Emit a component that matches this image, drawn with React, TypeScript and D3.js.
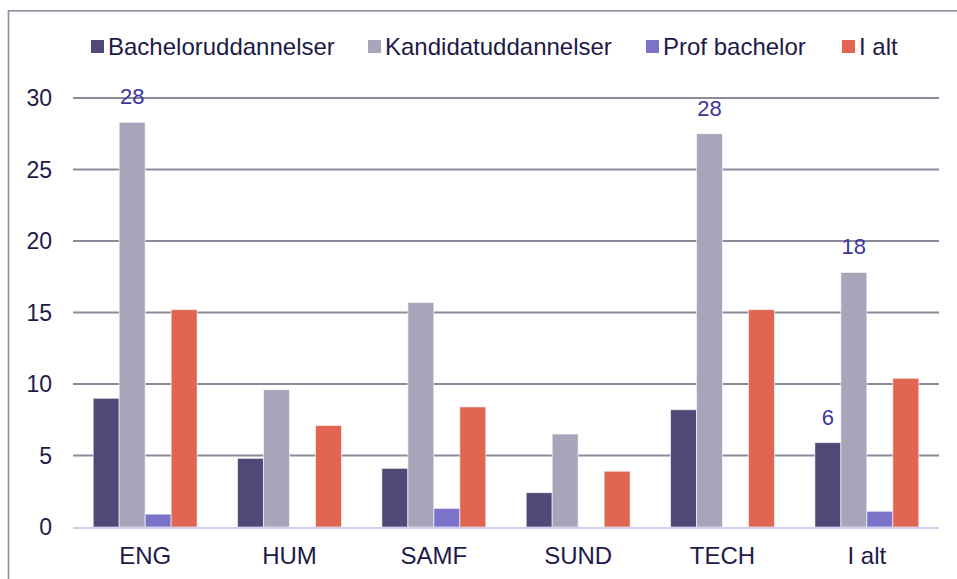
import React, { useEffect, useRef } from 'react'
import * as d3 from 'd3'

// faculties + total
const categories = ['ENG', 'HUM', 'SAMF', 'SUND', 'TECH', 'I alt']
const seriesNames = ['Bacheloruddannelser', 'Kandidatuddannelser', 'Prof bachelor', 'I alt']
const bachelor = [9.0, 4.8, 4.1, 2.4, 8.2, 5.9]
const kandidat = [28.3, 9.6, 15.7, 6.5, 27.5, 17.8]
const profBachelor = [0.9, 0, 1.3, 0, 0, 1.1]
const total = [15.2, 7.1, 8.4, 3.9, 15.2, 10.4]
const yTicks = [0, 5, 10, 15, 20, 25, 30]
// value labels shown in the chart: [category, series index, text]
const valueLabels: [string, number, string][] = [
  ['ENG', 1, '28'],
  ['TECH', 1, '28'],
  ['I alt', 1, '18'],
  ['I alt', 0, '6'],
]

const colors = ['#4f4977', '#a8a4ba', '#7b73c9', '#e06651']
const textColor = '#1e1a48'
const labelColor = '#3d369c'
const font = 'Arial, "Liberation Sans", sans-serif'

export default function App() {
  const svgRef = useRef<SVGSVGElement>(null)

  useEffect(() => {
    document.body.style.margin = '0'
    const W = 957, H = 579
    const margin = { top: 98, right: 18, bottom: 52, left: 73 }
    const svg = d3.select(svgRef.current)
    svg.selectAll('*').remove()
    svg.attr('width', W).attr('height', H)

    svg.append('rect').attr('width', W).attr('height', H).attr('fill', '#fff')

    // frame (right/bottom edges run off the picture)
    svg.append('rect')
      .attr('x', 8.5).attr('y', 10.8)
      .attr('width', W + 20).attr('height', H + 20)
      .attr('fill', 'none').attr('stroke', '#8f8ea0').attr('stroke-width', 1.6)

    const x0 = d3.scaleBand<string>()
      .domain(categories)
      .range([margin.left, W - margin.right])
      .paddingInner(0.28)
      .paddingOuter(0.14)

    const x1 = d3.scaleBand<number>()
      .domain([0, 1, 2, 3])
      .range([0, x0.bandwidth()])

    const y = d3.scaleLinear()
      .domain([0, 30])
      .range([H - margin.bottom, margin.top])

    // grid
    svg.append('g').selectAll('line')
      .data(yTicks.filter(t => t > 0))
      .enter().append('line')
      .attr('x1', margin.left).attr('x2', W - margin.right)
      .attr('y1', d => y(d)).attr('y2', d => y(d))
      .attr('stroke', '#8c8a9a').attr('stroke-width', 2)

    // y tick labels
    svg.append('g').selectAll('text')
      .data(yTicks)
      .enter().append('text')
      .attr('x', 52).attr('y', d => y(d))
      .attr('dy', '0.35em')
      .attr('text-anchor', 'end')
      .style('font', `23px ${font}`)
      .attr('fill', textColor)
      .text(d => d)

    const series = [bachelor, kandidat, profBachelor, total]
    const data = categories.map((c, i) => ({
      cat: c,
      values: series.map((s, k) => ({ k, v: s[i] })),
    }))

    const groups = svg.append('g').selectAll('g')
      .data(data)
      .enter().append('g')
      .attr('transform', d => `translate(${x0(d.cat)},0)`)

    groups.selectAll('rect')
      .data(d => d.values.filter(e => e.v > 0))
      .enter().append('rect')
      .attr('x', d => x1(d.k)!)
      .attr('width', x1.bandwidth())
      .attr('y', d => y(d.v))
      .attr('height', d => y(0) - y(d.v))
      .attr('fill', d => colors[d.k])
      .attr('stroke', '#fff').attr('stroke-opacity', 0.6).attr('stroke-width', 1)

    // zero line
    svg.append('line')
      .attr('x1', margin.left).attr('x2', W - margin.right)
      .attr('y1', y(0) + 1).attr('y2', y(0) + 1)
      .attr('stroke', '#d2cdea').attr('stroke-width', 2)

    // value labels
    svg.append('g').selectAll('text')
      .data(valueLabels)
      .enter().append('text')
      .attr('x', d => x0(d[0])! + x1(d[1])! + x1.bandwidth() / 2)
      .attr('y', d => y(series[d[1]][categories.indexOf(d[0])]) - 18)
      .attr('text-anchor', 'middle')
      .style('font', `22px ${font}`)
      .attr('fill', labelColor)
      .text(d => d[2])

    // x labels
    svg.append('g').selectAll('text')
      .data(categories)
      .enter().append('text')
      .attr('x', d => x0(d)! + x0.bandwidth() / 2)
      .attr('y', 564)
      .attr('text-anchor', 'middle')
      .style('font', `24px ${font}`)
      .attr('fill', textColor)
      .text(d => d)

    // legend
    const legendX = [91, 368, 646, 842]
    const legend = svg.append('g').selectAll('g')
      .data(seriesNames)
      .enter().append('g')
      .attr('transform', (d, i) => `translate(${legendX[i]},40)`)
    legend.append('rect')
      .attr('width', 13).attr('height', 13)
      .attr('fill', (d, i) => colors[i])
    legend.append('text')
      .attr('x', 17).attr('y', 15)
      .style('font', `24px ${font}`)
      .attr('fill', textColor)
      .text(d => d)
  }, [])

  return <svg ref={svgRef} style={{ display: 'block' }} />
}
